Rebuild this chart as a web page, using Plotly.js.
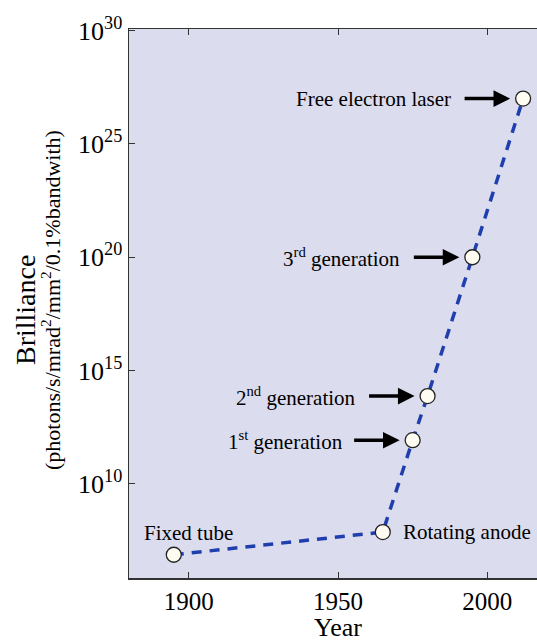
<!DOCTYPE html>
<html>
<head>
<meta charset="utf-8">
<script src="https://cdn.plot.ly/plotly-3.0.1.min.js"></script>
<style>
html,body{margin:0;padding:0;overflow:hidden;background:#fff;}
#chart{width:560px;height:641px;}
</style>
</head>
<body>
<div id="chart"></div>
<script>
// Data
const labels = ["Fixed tube", "Rotating anode", "1<sup>st</sup> generation", "2<sup>nd</sup> generation", "3<sup>rd</sup> generation", "Free electron laser"];
const years = [1895, 1965, 1975, 1980, 1995, 2012];
const brilliance = [7.5e6, 7.5e7, 8.5e11, 7.5e13, 1e20, 1e27];
const yTickVals = [1e10, 1e15, 1e20, 1e25, 1e30];
const yTickText = ["10<sup>10</sup>", "10<sup>15</sup>", "10<sup>20</sup>", "10<sup>25</sup>", "10<sup>30</sup>"];
const xTickVals = [1900, 1950, 2000];

const serif = "Liberation Serif, Times New Roman, serif";

const trace = {
  x: years, y: brilliance, type: 'scatter', mode: 'lines+markers',
  line: {color: '#1f3fae', width: 3.5, dash: '10px,8px'},
  marker: {size: 15, color: '#fffcf2', line: {color: '#222', width: 1.3}},
  hoverinfo: 'none'
};

const annFont = {family: serif, size: 21, color: '#000'};
const annotations = [];
// Arrowed labels (indices 2..5)
for (let i = 2; i < 6; i++) {
  annotations.push({
    x: years[i], y: Math.log10(brilliance[i]), xref: 'x', yref: 'y',
    text: labels[i], showarrow: false, xanchor: 'right', yanchor: 'middle',
    xshift: i === 2 ? -68 : -70, font: annFont
  });
  annotations.push({
    x: years[i], y: Math.log10(brilliance[i]), xref: 'x', yref: 'y',
    text: '', showarrow: true, ax: -60, ay: 0, standoff: 13,
    arrowhead: 2, arrowsize: 0.95, arrowwidth: 3.5, arrowcolor: '#000'
  });
}
annotations.push({
  x: years[0], y: Math.log10(brilliance[0]), xref: 'x', yref: 'y',
  text: labels[0], showarrow: false, xanchor: 'center', yanchor: 'middle',
  xshift: 15, yshift: 22, font: annFont
});
annotations.push({
  x: years[1], y: Math.log10(brilliance[1]), xref: 'x', yref: 'y',
  text: labels[1], showarrow: false, xanchor: 'left', yanchor: 'middle',
  xshift: 18, yshift: 0, font: annFont
});
// Axis titles
annotations.push({
  x: -0.249, y: 0.488, xref: 'paper', yref: 'paper', text: 'Brilliance',
  textangle: -90, showarrow: false, xanchor: 'center', yanchor: 'middle',
  font: {family: serif, size: 28, color: '#000'}
});
annotations.push({
  x: -0.187, y: 0.506, xref: 'paper', yref: 'paper',
  text: '(photons/s/mrad<sup>2</sup>/mm<sup>2</sup>/0.1%bandwith)',
  textangle: -90, showarrow: false, xanchor: 'center', yanchor: 'middle',
  font: {family: serif, size: 22, color: '#000'}
});
annotations.push({
  x: 0.5, y: 0, xref: 'paper', yref: 'paper', text: 'Year',
  showarrow: false, xanchor: 'center', yanchor: 'top', yshift: -33,
  font: {family: serif, size: 26, color: '#000'}
});

const layout = {
  width: 560, height: 641,
  margin: {l: 129, r: 13, t: 29, b: 63},
  paper_bgcolor: '#ffffff', plot_bgcolor: '#dcdcef',
  showlegend: false,
  xaxis: {
    range: [1880, 2020], tickvals: xTickVals, ticks: 'inside', ticklen: 6,
    tickcolor: '#333', showline: true, linecolor: '#333', linewidth: 1.5,
    mirror: 'ticks', showgrid: false, zeroline: false,
    tickfont: {family: serif, size: 25, color: '#000'}
  },
  yaxis: {
    type: 'log', range: [5.85, 30.07], tickvals: yTickVals, ticktext: yTickText,
    ticks: 'inside', ticklen: 6, tickcolor: '#333', showline: true,
    linecolor: '#333', linewidth: 1.5, mirror: 'ticks', showgrid: false,
    zeroline: false, tickfont: {family: serif, size: 26, color: '#000'}
  },
  annotations: annotations
};

Plotly.newPlot('chart', [trace], layout, {displayModeBar: false, staticPlot: true});
</script>
</body>
</html>
